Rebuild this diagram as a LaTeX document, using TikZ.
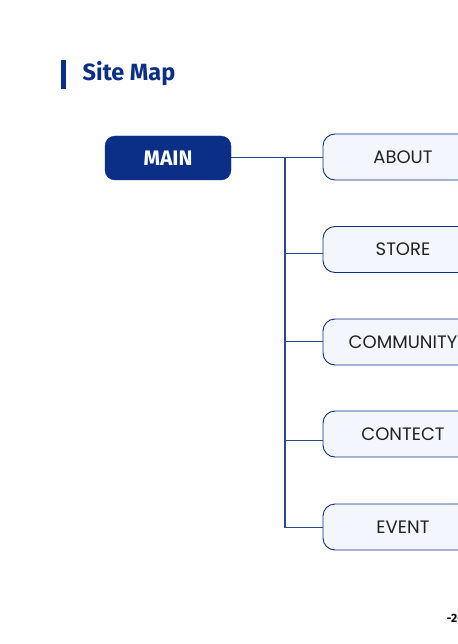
\documentclass[tikz,border=0pt]{standalone}
\usepackage{fontspec}
\setmainfont{Poppins}
\newfontfamily\titlefont{Fira Sans}
\definecolor{navy}{HTML}{0B2F86}
\definecolor{linec}{HTML}{2A4796}
\definecolor{boxfill}{HTML}{F3F6FC}
\definecolor{txt}{HTML}{222222}
\begin{document}
\begin{tikzpicture}[x=1pt,y=1pt,
  mainbox/.style={draw=navy,fill=navy,rounded corners=10pt,minimum width=126pt,minimum height=44pt,inner sep=0pt,text=white,font=\titlefont\bfseries\fontsize{21}{21}\selectfont},
  subbox/.style={draw=navy,line width=0.9pt,fill=boxfill,rounded corners=12pt,minimum width=160pt,minimum height=46pt,inner sep=0pt,text=txt,font=\fontsize{18}{18}\selectfont},
  conn/.style={draw=linec,line width=1.2pt}]
\useasboundingbox (0,0) rectangle (457,-644);
\fill[white] (0,0) rectangle (457,-644);
\fill[navy] (61,-60) rectangle (65.5,-89);
\node[anchor=west,text=navy,font=\titlefont\bfseries\fontsize{23.5}{23.5}\selectfont,inner sep=0pt] (title) at (82.5,-74) {Site Map};
\node[mainbox] (main) at (168,-158) {MAIN};
\node[subbox] (about) at (403,-157) {ABOUT};
\node[subbox] (store) at (403,-249.5) {STORE};
\node[subbox] (community) at (403,-342) {COMMUNITY};
\node[subbox] (contect) at (403,-434) {CONTECT};
\node[subbox] (event) at (403,-527) {EVENT};
\coordinate (j) at (285,-157.5);
\coordinate (bs) at (285,-253.5);
\coordinate (bc) at (285,-341.5);
\coordinate (bt) at (285,-440.5);
\coordinate (be) at (285,-527.5);
\draw[conn] (main.east |- j) -- (j) -- (about.west |- j);
\draw[conn] (j) -- (be) -- (be -| event.west);
\draw[conn] (bs) -- (bs -| store.west);
\draw[conn] (bc) -- (bc -| community.west);
\draw[conn] (bt) -- (bt -| contect.west);
\node[anchor=west,inner sep=0pt,font=\titlefont\bfseries\fontsize{12}{12}\selectfont] (page) at (446.5,-618) {-2-};
\end{tikzpicture}
\end{document}
